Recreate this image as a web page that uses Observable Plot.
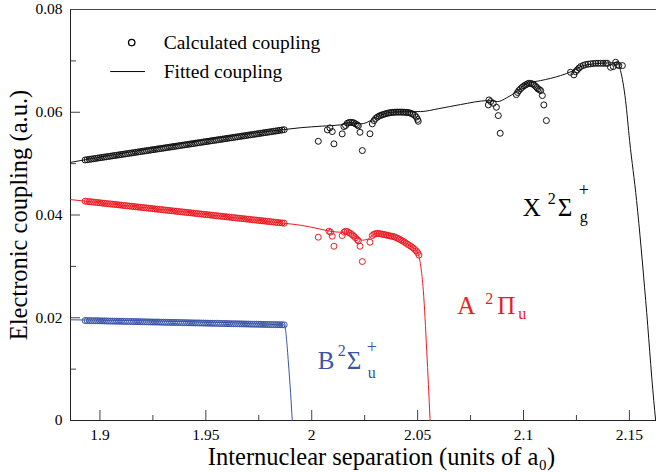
<!DOCTYPE html>
<html><head><meta charset="utf-8">
<script src="https://cdn.jsdelivr.net/npm/d3@7"></script>
<script src="https://cdn.jsdelivr.net/npm/@observablehq/plot@0.6"></script>
<style>
body{margin:0;background:#fff}
svg{display:block}
#chart svg, #chart svg text{font-family:"Liberation Serif","DejaVu Serif",serif !important}
</style>
</head><body><div id="chart"></div>
<script>
// ---- data ----
const denseX = [1.893,1.894,1.895,1.896,1.897,1.898,1.899,1.900,1.901,1.902,1.903,1.904,1.905,1.906,1.907,1.908,1.909,1.910,1.911,1.912,1.913,1.914,1.915,1.916,1.917,1.918,1.919,1.920,1.921,1.922,1.923,1.924,1.925,1.926,1.927,1.928,1.929,1.930,1.931,1.932,1.933,1.934,1.935,1.936,1.937,1.938,1.939,1.940,1.941,1.942,1.943,1.944,1.945,1.946,1.947,1.948,1.949,1.950,1.951,1.952,1.953,1.954,1.955,1.956,1.957,1.958,1.959,1.960,1.961,1.962,1.963,1.964,1.965,1.966,1.967,1.968,1.969,1.970,1.971,1.972,1.973,1.974,1.975,1.976,1.977,1.978,1.979,1.980,1.981,1.982,1.983,1.984,1.985,1.986,1.987];
const denseYX = [0.05070,0.05076,0.05083,0.05089,0.05095,0.05101,0.05108,0.05114,0.05120,0.05127,0.05133,0.05139,0.05145,0.05152,0.05158,0.05164,0.05170,0.05177,0.05183,0.05189,0.05196,0.05202,0.05208,0.05214,0.05221,0.05227,0.05233,0.05240,0.05246,0.05252,0.05258,0.05265,0.05271,0.05277,0.05284,0.05290,0.05296,0.05302,0.05309,0.05315,0.05321,0.05327,0.05334,0.05340,0.05346,0.05353,0.05359,0.05365,0.05371,0.05378,0.05384,0.05390,0.05397,0.05403,0.05409,0.05415,0.05422,0.05428,0.05434,0.05441,0.05447,0.05453,0.05459,0.05466,0.05472,0.05478,0.05484,0.05491,0.05497,0.05503,0.05510,0.05516,0.05522,0.05528,0.05535,0.05541,0.05547,0.05554,0.05560,0.05566,0.05572,0.05579,0.05585,0.05591,0.05598,0.05604,0.05610,0.05616,0.05623,0.05629,0.05635,0.05641,0.05648,0.05654,0.05660];
const denseYA = [0.04269,0.04264,0.04260,0.04255,0.04251,0.04246,0.04242,0.04237,0.04232,0.04228,0.04223,0.04219,0.04214,0.04210,0.04205,0.04201,0.04196,0.04191,0.04187,0.04182,0.04178,0.04173,0.04169,0.04164,0.04159,0.04155,0.04150,0.04146,0.04141,0.04137,0.04132,0.04128,0.04123,0.04118,0.04114,0.04109,0.04105,0.04100,0.04096,0.04091,0.04086,0.04082,0.04077,0.04073,0.04068,0.04064,0.04059,0.04054,0.04050,0.04045,0.04041,0.04036,0.04032,0.04027,0.04023,0.04018,0.04013,0.04009,0.04004,0.04000,0.03995,0.03991,0.03986,0.03981,0.03977,0.03972,0.03968,0.03963,0.03959,0.03954,0.03950,0.03945,0.03940,0.03936,0.03931,0.03927,0.03922,0.03918,0.03913,0.03908,0.03904,0.03899,0.03895,0.03890,0.03886,0.03881,0.03877,0.03872,0.03867,0.03863,0.03858,0.03854,0.03849,0.03845,0.03840];
const denseYB = [0.01946,0.01945,0.01944,0.01943,0.01942,0.01942,0.01941,0.01940,0.01939,0.01938,0.01937,0.01936,0.01935,0.01934,0.01933,0.01933,0.01932,0.01931,0.01930,0.01929,0.01928,0.01927,0.01926,0.01925,0.01925,0.01924,0.01923,0.01922,0.01921,0.01920,0.01919,0.01918,0.01917,0.01916,0.01916,0.01915,0.01914,0.01913,0.01912,0.01911,0.01910,0.01909,0.01908,0.01908,0.01907,0.01906,0.01905,0.01904,0.01903,0.01902,0.01901,0.01900,0.01899,0.01899,0.01898,0.01897,0.01896,0.01895,0.01894,0.01893,0.01892,0.01891,0.01891,0.01890,0.01889,0.01888,0.01887,0.01886,0.01885,0.01884,0.01883,0.01883,0.01882,0.01881,0.01880,0.01879,0.01878,0.01877,0.01876,0.01875,0.01874,0.01874,0.01873,0.01872,0.01871,0.01870,0.01869,0.01868,0.01867,0.01866,0.01866,0.01865,0.01864,0.01863,0.01862];

// irregular calculated points, X state
const calcXx = [2.0031,2.0074,2.0086,2.0097,2.0105,2.0144,2.0152,2.0160,2.0168,2.0176,2.0184,2.0192,2.0199,2.0207,2.0215,2.0220,2.0228,2.0239,2.0275,2.0286,
  2.0294,2.0302,2.0310,2.0318,2.0326,2.0334,2.0342,2.0350,2.0358,2.0366,2.0374,2.0382,2.0390,2.0398,2.0406,2.0414,2.0422,2.0430,2.0438,2.0446,2.0454,2.0462,2.0470,2.0478,2.0486,2.0494,2.0500,2.0503,
  2.0834,2.0837,2.0845,2.0857,2.0872,2.0881,2.0890,
  2.0966,2.0972,2.0978,2.0986,2.0994,2.1002,2.1010,2.1018,2.1025,2.1033,2.1042,2.1050,2.1057,2.1063,2.1068,2.1075,2.1081,2.1089,2.1096,2.1108,
  2.1222,2.1238,2.1246,2.1254,2.1262,2.1270,2.1282,2.1293,2.1305,2.1317,2.1329,2.1341,2.1352,2.1364,2.1376,2.1388,2.1396,2.1411,2.1424,2.1435,2.1443,2.1450,2.1467];
const calcXy = [0.05435,0.05657,0.05696,0.05624,0.05385,0.05579,0.05721,0.05741,0.05786,0.05799,0.05805,0.05799,0.05793,0.05774,0.05754,0.05735,0.05610,0.05254,0.05580,0.05774,
  0.05838,0.05880,0.05905,0.05925,0.05940,0.05952,0.05962,0.05972,0.05980,0.05988,0.05994,0.05998,0.06000,0.06002,0.06003,0.06003,0.06003,0.06002,0.06000,0.05998,0.05994,0.05988,0.05978,0.05960,0.05940,0.05905,0.05860,0.05824,
  0.06143,0.06240,0.06208,0.06175,0.06097,0.05935,0.05591,
  0.06344,0.06385,0.06422,0.06455,0.06486,0.06512,0.06533,0.06550,0.06564,0.06562,0.06552,0.06530,0.06505,0.06480,0.06455,0.06440,0.06422,0.06325,0.06143,0.05838,
  0.06778,0.06727,0.06790,0.06825,0.06860,0.06889,0.06910,0.06928,0.06936,0.06942,0.06948,0.06953,0.06953,0.06953,0.06953,0.06953,0.06953,0.06875,0.06889,0.06973,0.06928,0.06908,0.06908];

// irregular calculated points, A state
const calcAx = [2.0031,2.0081,2.0089,2.0097,2.0105,2.0144,2.0153,2.0160,2.0168,2.0176,2.0184,2.0192,2.0199,2.0207,2.0215,2.0220,2.0228,2.0239,2.0275,
  2.0286,2.0294,2.0302,2.0310,2.0318,2.0326,2.0334,2.0342,2.0350,2.0358,2.0366,2.0374,2.0382,2.0390,2.0398,2.0406,2.0414,2.0422,2.0430,2.0438,2.0446,2.0454,2.0462,2.0470,2.0478,2.0486,2.0494,2.0500,2.0506];
const calcAy = [0.03568,0.03684,0.03665,0.03587,0.03392,0.03600,0.03665,0.03684,0.03678,0.03658,0.03639,0.03613,0.03587,0.03555,0.03522,0.03497,0.03392,0.03094,0.03470,
  0.03600,0.03625,0.03638,0.03642,0.03638,0.03632,0.03626,0.03620,0.03612,0.03604,0.03596,0.03589,0.03584,0.03577,0.03560,0.03545,0.03530,0.03512,0.03492,0.03472,0.03450,0.03428,0.03405,0.03385,0.03360,0.03330,0.03300,0.03268,0.03220];

// fitted curves
const fitXx = [1.8861,1.9867,1.9950,2.0050,2.0136,2.0175,2.0205,2.0231,2.0260,2.0292,2.0330,2.0387,2.0450,2.0514,2.0600,2.0703,2.0835,2.0878,2.0920,2.0963,2.1019,2.1081,2.1175,2.1230,2.1269,2.1331,2.1400,2.1444,2.1458,2.1482,2.1501,2.1534,2.1577,2.1615,2.1624];
const fitXy = [0.05025,0.05663,0.05700,0.05730,0.05754,0.05800,0.05790,0.05774,0.05800,0.05877,0.05950,0.06003,0.06010,0.06013,0.06070,0.06150,0.06227,0.06208,0.06280,0.06389,0.06564,0.06616,0.06714,0.06800,0.06889,0.06941,0.06960,0.06967,0.06811,0.06227,0.05449,0.04281,0.02335,0.00389,0];
const fitAx = [1.8861,1.9867,1.9950,2.0030,2.0080,2.0130,2.0160,2.0190,2.0215,2.0240,2.0265,2.0288,2.0310,2.0350,2.0390,2.0430,2.0470,2.0500,2.0515,2.0527,2.0535,2.0543,2.0551,2.0559];
const fitAy = [0.04300,0.03840,0.03800,0.03735,0.03690,0.03665,0.03670,0.03640,0.03560,0.03510,0.03530,0.03610,0.03645,0.03615,0.03578,0.03495,0.03388,0.03270,0.03000,0.02530,0.02000,0.01360,0.00700,0];
const fitBx = [1.8861,1.9872,1.9880,1.9890,1.9900,1.9908];
const fitBy = [0.01960,0.01860,0.01630,0.01120,0.00550,0];

const xMajor = [1.9,1.95,2,2.05,2.1,2.15];
const xMinor = [1.925,1.975,2.025,2.075,2.125];
const yMajor = [0,0.02,0.04,0.06,0.08];
const yMinor = [0.01,0.03,0.05,0.07];
const xDomain = [1.8861, 2.1628];
const yDomain = [0, 0.08];

const legendItems = ["Calculated coupling", "Fitted coupling"];
const colorX = "#111", colorA = "#ec1c24", colorB = "#3a55a6";

// ---- build ----
const pts = (xs, ys) => xs.map((x, i) => ({x, y: ys[i]}));
const font = "'Liberation Serif', 'DejaVu Serif', serif";

function stateLabel(anchor, parts, color) {
  return parts.map(([t, dx, dy, size]) =>
    Plot.text([anchor], {x: "x", y: "y", text: () => t, dx, dy, fontSize: size,
      textAnchor: "start", lineAnchor: "bottom", fill: color, fontFamily: font}));
}

const chart = Plot.plot({
  width: 656, height: 472,
  marginLeft: 70, marginRight: 0, marginTop: 9, marginBottom: 52,
  style: {fontFamily: font, fontSize: "15.5px", background: "#fff", color: "#000"},
  x: {domain: xDomain, axis: null},
  y: {domain: yDomain, axis: null},
  marks: [
    // tick labels
    Plot.axisX(xMajor, {tickSize: 0, tickPadding: 8, tickFormat: d => String(d), fontSize: 15.5, label: null}),
    Plot.axisY(yMajor, {tickSize: 0, tickPadding: 8, tickFormat: d => d === 0 ? "0" : d.toFixed(2), fontSize: 15.5, label: null}),
    // inward ticks
    Plot.ruleX(xMajor, {x: d => d, y1: 0, y2: 0, insetBottom: 10, stroke: "#444"}),
    Plot.ruleX(xMinor, {x: d => d, y1: 0, y2: 0, insetBottom: 5, stroke: "#444"}),
    Plot.ruleY(yMajor, {y: d => d, x1: xDomain[0], x2: xDomain[0], insetRight: -10, stroke: "#444"}),
    Plot.ruleY(yMinor, {y: d => d, x1: xDomain[0], x2: xDomain[0], insetRight: -6, stroke: "#444"}),
    // frame lines
    Plot.ruleX([xDomain[0]], {stroke: "#222"}),
    Plot.ruleY([yDomain[0]], {stroke: "#222"}),
    Plot.ruleY([yDomain[1]], {stroke: "#444"}),
    Plot.text(["Internuclear separation (units of a₀)"], {frameAnchor: "bottom", textAnchor: "middle", dx: 18, dy: 44, lineAnchor: "bottom", fontSize: 24.5, fontFamily: font}),
    Plot.text(["Electronic coupling (a.u.)"], {frameAnchor: "left", textAnchor: "middle", dx: -44, rotate: -90, lineAnchor: "bottom", fontSize: 24.5, fontFamily: font}),
    // fitted lines
    Plot.line(pts(fitXx, fitXy), {x: "x", y: "y", stroke: colorX, strokeWidth: 1, curve: "monotone-x"}),
    Plot.line(pts(fitAx, fitAy), {x: "x", y: "y", stroke: colorA, strokeWidth: 1, curve: "monotone-x"}),
    Plot.line(pts(fitBx, fitBy), {x: "x", y: "y", stroke: colorB, strokeWidth: 1, curve: "monotone-x"}),
    // calculated points
    Plot.dot(pts(denseX, denseYX).concat(pts(calcXx, calcXy)), {x: "x", y: "y", r: 3, stroke: colorX, strokeWidth: 1, fill: "none"}),
    Plot.dot(pts(denseX, denseYA).concat(pts(calcAx, calcAy)), {x: "x", y: "y", r: 3, stroke: colorA, strokeWidth: 1, fill: "none"}),
    Plot.dot(pts(denseX, denseYB), {x: "x", y: "y", r: 3, stroke: colorB, strokeWidth: 1, fill: "none"}),
    // legend
    Plot.dot([{x: 1.915, y: 0.07356}], {x: "x", y: "y", r: 3.2, stroke: "#000", strokeWidth: 1.3, fill: "none"}),
    Plot.ruleY([{y: 0.06792, x1: 1.9051, x2: 1.9215}], {y: "y", x1: "x1", x2: "x2", stroke: "#000"}),
    Plot.text([{x: 1.9301, y: 0.0724, t: legendItems[0]}], {x: "x", y: "y", text: "t", textAnchor: "start", lineAnchor: "bottom", fontSize: 19.5, fontFamily: font}),
    Plot.text([{x: 1.9301, y: 0.06675, t: legendItems[1]}], {x: "x", y: "y", text: "t", textAnchor: "start", lineAnchor: "bottom", fontSize: 19.5, fontFamily: font}),
    // state labels
    ...stateLabel({x: 2.0996, y: 0.0399}, [["X", 0, 0, 25], ["2", 25, -12, 16], ["Σ", 35, 0, 25], ["+", 56, -20, 18], ["g", 57, 6, 16]], "#000"),
    ...stateLabel({x: 2.0687, y: 0.02076}, [["A", 0, 0, 25], ["2", 28, -10, 16], ["Π", 40, 0, 25], ["u", 61, 5, 16]], colorA),
    ...stateLabel({x: 2.0028, y: 0.01012}, [["B", 0, 0, 25], ["2", 20, -13, 16], ["Σ", 29, 0, 25], ["+", 49, -16, 18], ["u", 50, 9, 16]], colorB)
  ]
});
document.getElementById("chart").appendChild(chart);
</script>
</body></html>
